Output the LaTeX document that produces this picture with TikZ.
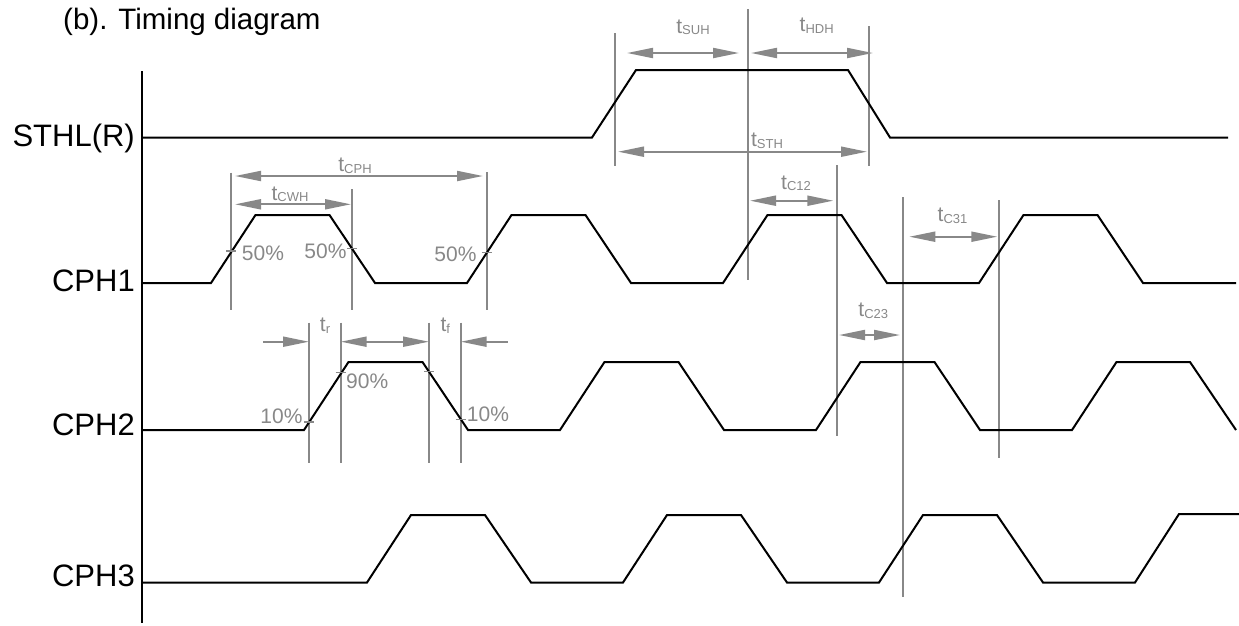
\documentclass[tikz,border=0pt]{standalone}
\usepackage{fontspec}
\setmainfont{Liberation Sans}
\usetikzlibrary{arrows.meta}
\definecolor{dimc}{RGB}{136,136,136}
\newcommand{\tlab}[1]{t{\fontsize{13}{13}\selectfont\raisebox{-1.5pt}{#1}}}
\tikzset{
  sig/.style={line width=2pt, black, line join=miter},
  axisline/.style={line width=2pt, black},
  guide/.style={line width=2pt, dimc},
  tick/.style={line width=1.6pt, dimc},
  tip/.tip={Triangle[length=26pt,width=10pt]},
  dimarr/.style={line width=2pt, dimc, tip-tip},
  dimtext/.style={text=dimc, font=\fontsize{21}{21}\selectfont, inner sep=0pt},
  siglabel/.style={anchor=base east, inner sep=0pt, font=\fontsize{31}{31}\selectfont},
}
\begin{document}
\begin{tikzpicture}[x=1pt,y=-1pt]
\useasboundingbox (0,0) rectangle (1239,625);

% title
\node[anchor=base west, inner sep=0pt, font=\fontsize{29.5}{29.5}\selectfont] (title) at (63,29) {(b). Timing diagram};

% signal labels
\node[siglabel] (lS) at (135,146.7) {STHL(R)};
\node[siglabel] (l1) at (135,291.7) {CPH1};
\node[siglabel] (l2) at (135,435.7) {CPH2};
\node[siglabel] (l3) at (135,586.7) {CPH3};

% axis
\coordinate (axt) at (142,71);
\coordinate (axb) at (142,623);
\draw[axisline] (axt) -- (axb);

% vertical guides
\foreach \n/\x/\a/\b in {
  g1/231/172.7/310, g2/352.3/189/310, g3/486.7/172/310,
  g4/309/322.7/463, g5/340.7/322.7/463, g6/429/322.7/463, g7/460.7/322.7/463,
  g8/615/33/166, g9/748/9/280, g10/868.7/26/166,
  g11/836.7/165/436, g12/903/197/597, g13/999.3/200/457.5}{
  \coordinate (\n t) at (\x,\a);
  \coordinate (\n b) at (\x,\b);
  \draw[guide] (\n t) -- (\n b);
}

% signals
\draw[sig] (142,137.5) -- (592,137.5) -- (636,70) -- (848,70) -- (890,137.5) -- (1228,137.5);

\draw[sig] (142,283) -- (211,283)
  \foreach \k in {0,1,2,3}{
    -- ({211+256*\k},283) -- ({255.5+256*\k},215) -- ({329.5+256*\k},215) -- ({375+256*\k},283)
  } -- (1236,283);

\draw[sig] (142,430) -- (304,430)
  \foreach \k in {0,1,2}{
    -- ({304+256*\k},430) -- ({348.5+256*\k},362) -- ({422.5+256*\k},362) -- ({468+256*\k},430)
  } -- (1072,430) -- (1116.5,362) -- (1190,362) -- (1236,430);

\draw[sig] (142,582.5) -- (367,582.5)
  \foreach \k in {0,1,2}{
    -- ({367+256*\k},582.5) -- ({411+256*\k},515) -- ({485+256*\k},515) -- ({531+256*\k},582.5)
  } -- (1135,582.5) -- (1179,514) -- (1239,514);

% dimension arrows
\coordinate (suhL) at (627,53);   \coordinate (suhR) at (739,53);
\coordinate (hdhL) at (751,53);   \coordinate (hdhR) at (873,53);
\coordinate (sthL) at (618,151.7); \coordinate (sthR) at (867,151.7);
\coordinate (cphL) at (235,176);  \coordinate (cphR) at (483,176);
\coordinate (cwhL) at (235,204.3); \coordinate (cwhR) at (351,204.3);
\coordinate (c12L) at (750,200.7); \coordinate (c12R) at (833.3,200.7);
\coordinate (c31L) at (909.3,236.7); \coordinate (c31R) at (997.3,236.7);
\coordinate (c23L) at (839,335);  \coordinate (c23R) at (900,335);
\draw[dimarr] (suhL) -- (suhR);
\draw[dimarr] (hdhL) -- (hdhR);
\draw[dimarr] (sthL) -- (sthR);
\draw[dimarr] (cphL) -- (cphR);
\draw[dimarr] (cwhL) -- (cwhR);
\draw[dimarr] (c12L) -- (c12R);
\draw[dimarr] (c31L) -- (c31R);
\draw[dimarr] (c23L) -- (c23R);

\coordinate (r0) at (263,341.7); \coordinate (r1) at (309,341.7);
\coordinate (r2) at (340.7,341.7); \coordinate (r3) at (429,341.7);
\coordinate (r4) at (460.7,341.7); \coordinate (r5) at (508,341.7);
\draw[guide, -tip] (r0) -- (r1);
\draw[dimarr] (r2) -- (r3);
\draw[guide, tip-] (r4) -- (r5);

% dimension labels
\node[dimtext, anchor=base] (tsuh) at (693,33) {\tlab{SUH}};
\node[dimtext, anchor=base] (thdh) at (816.7,31.7) {\tlab{HDH}};
\node[dimtext, anchor=base] (tsth) at (767,146.7) {\tlab{STH}};
\node[dimtext, anchor=base] (tcph) at (355,171.7) {\tlab{CPH}};
\node[dimtext, anchor=base] (tcwh) at (290,200) {\tlab{CWH}};
\node[dimtext, anchor=base] (ttr) at (325,331.7) {\tlab{r}};
\node[dimtext, anchor=base] (ttf) at (445.3,331.7) {\tlab{f}};
\node[dimtext, anchor=base] (tc12) at (796,189.3) {\tlab{C12}};
\node[dimtext, anchor=base] (tc31) at (952.5,221.7) {\tlab{C31}};
\node[dimtext, anchor=base] (tc23) at (873.3,316.7) {\tlab{C23}};

% percentage labels
\node[dimtext, anchor=base west] (p50a) at (241.7,260) {50\%};
\node[dimtext, anchor=base east] (p50b) at (346.7,258.3) {50\%};
\node[dimtext, anchor=base east] (p50c) at (476.7,261.7) {50\%};
\node[dimtext, anchor=base east] (p10a) at (302.7,423.3) {10\%};
\node[dimtext, anchor=base west] (p90) at (346,388.3) {90\%};
\node[dimtext, anchor=base west] (p10b) at (466.7,421.7) {10\%};

% ticks at crossings
\foreach \n/\x/\y in {k1/231/251, k2/352.3/248.5, k3/486.7/252.5,
  k4/309/422, k5/340.7/372.5, k6/429/371.5, k7/460.7/419.5}{
  \coordinate (\n a) at ({\x-5},\y);
  \coordinate (\n b) at ({\x+5},\y);
  \draw[tick] (\n a) -- (\n b);
}
\end{tikzpicture}
\end{document}
